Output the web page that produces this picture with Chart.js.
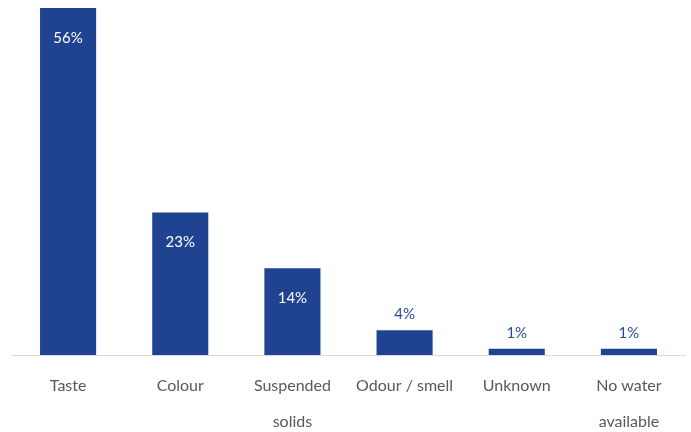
<!DOCTYPE html>
<html>
<head>
<meta charset="utf-8">
<script src="https://cdn.jsdelivr.net/npm/chart.js@4.4.1/dist/chart.umd.min.js"></script>
<style>
  html, body { margin: 0; padding: 0; background: #fff; }
  #wrap { width: 691px; height: 432px; }
</style>
</head>
<body>
<div id="wrap"><canvas id="chart" width="691" height="432"></canvas></div>
<script>
const categories = [
  'Taste',
  'Colour',
  ['Suspended', 'solids'],
  'Odour / smell',
  'Unknown',
  ['No water', 'available'],
]
const shares = [56, 23, 14, 4, 1, 1]

const barColor = '#204391'
const fontFamily = 'Lato, "Open Sans", sans-serif'

// percentage labels: white inside tall bars, blue above short ones
const valueLabels = {
  id: 'valueLabels',
  afterDatasetsDraw(chart) {
    const ctx = chart.ctx
    const meta = chart.getDatasetMeta(0)
    ctx.save()
    ctx.font = '15px ' + fontFamily
    ctx.textAlign = 'center'
    ctx.textBaseline = 'middle'
    meta.data.forEach((bar, i) => {
      const v = shares[i]
      if (v >= 10) {
        ctx.fillStyle = '#ffffff'
        ctx.fillText(v + '%', bar.x, bar.y + 30)
      } else {
        ctx.fillStyle = '#2a4b9b'
        ctx.fillText(v + '%', bar.x, bar.y - 16)
      }
    })
    ctx.restore()
  },
}

new Chart(document.getElementById('chart'), {
  type: 'bar',
  data: {
    labels: categories,
    datasets: [
      {
        data: shares,
        backgroundColor: barColor,
        barPercentage: 1,
        categoryPercentage: 0.5,
      },
    ],
  },
  options: {
    responsive: false,
    animation: false,
    layout: { padding: { top: 8, left: 12, right: 6, bottom: 0 } },
    plugins: {
      legend: { display: false },
      tooltip: { enabled: false },
    },
    scales: {
      y: {
        display: false,
        min: 0,
        max: 56,
      },
      x: {
        grid: { display: false, drawTicks: false },
        border: { display: true, color: '#d9d9d9', width: 1 },
        ticks: {
          color: '#595959',
          padding: 13,
          maxRotation: 0,
          autoSkip: false,
          font: { family: fontFamily, size: 16, lineHeight: '36px' },
        },
        afterFit(scale) {
          scale.height = 77
        },
      },
    },
  },
  plugins: [valueLabels],
})
</script>
</body>
</html>
